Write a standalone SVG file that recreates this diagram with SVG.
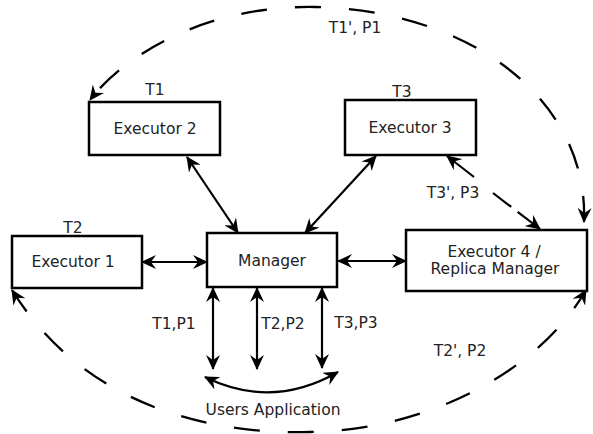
<svg xmlns="http://www.w3.org/2000/svg" width="593" height="434" viewBox="0 0 593 434">
<style>
.box{fill:#fff;stroke:#000;stroke-width:2.5}
.t{font-family:"DejaVu Sans",Verdana,sans-serif;font-size:15.5px;fill:#222;text-anchor:middle}
.c{fill:none;stroke:#000;stroke-width:2.2}
.d{fill:none;stroke:#000;stroke-width:2.3;stroke-dasharray:26 28}
</style>
<defs>
<marker id="ah" viewBox="0 0 15 14" refX="14" refY="7" markerWidth="15" markerHeight="14" markerUnits="userSpaceOnUse" orient="auto-start-reverse">
<path d="M0,0 L15,7 L0,14 L5,7 z" fill="#000"/>
</marker>
</defs>
<rect width="593" height="434" fill="#fff"/>
<g id="connectors">
<path class="d" d="M584,222 C589,100 470,10 315,7 C200,5 120,60 90,100" marker-start="url(#ah)" marker-end="url(#ah)"/>
<path class="d" d="M12,290 C80,400 200,435 310,432 C430,430 540,370 586,290" marker-start="url(#ah)" marker-end="url(#ah)"/>
<line class="c" x1="187" y1="157" x2="238" y2="233" marker-start="url(#ah)" marker-end="url(#ah)"/>
<line class="c" x1="376" y1="156" x2="305" y2="233" marker-start="url(#ah)" marker-end="url(#ah)"/>
<line class="c" x1="142" y1="262" x2="207" y2="262" marker-start="url(#ah)" marker-end="url(#ah)"/>
<line class="c" x1="338" y1="261" x2="406" y2="261" marker-start="url(#ah)" marker-end="url(#ah)"/>
<line class="c" x1="213" y1="288" x2="213" y2="369" marker-start="url(#ah)" marker-end="url(#ah)"/>
<line class="c" x1="257" y1="288" x2="257" y2="369" marker-start="url(#ah)" marker-end="url(#ah)"/>
<line class="c" x1="322" y1="288" x2="322" y2="368" marker-start="url(#ah)" marker-end="url(#ah)"/>
<path class="c" d="M205,377 Q272,410 338,372" marker-start="url(#ah)" marker-end="url(#ah)"/>
<line class="c" x1="447" y1="156" x2="474" y2="177" marker-start="url(#ah)"/>
<path class="c" d="M493,193 L540,229" style="stroke-dasharray:23 8 40" marker-end="url(#ah)"/>
</g>
<g id="labels">
<text class="t" x="355" y="33">T1', P1</text>
<text class="t" x="453" y="198">T3', P3</text>
<text class="t" x="460" y="356">T2', P2</text>
<text class="t" x="174" y="329">T1,P1</text>
<text class="t" x="283" y="329">T2,P2</text>
<text class="t" x="356" y="328">T3,P3</text>
<text class="t" x="273" y="415">Users Application</text>
</g>
<g id="executor2">
<text class="t" x="155" y="95">T1</text>
<rect class="box" x="89" y="102" width="131" height="53"/>
<text class="t" x="155" y="134">Executor 2</text>
</g>
<g id="executor3">
<text class="t" x="402" y="97">T3</text>
<rect class="box" x="345" y="100" width="131" height="55"/>
<text class="t" x="410" y="133">Executor 3</text>
</g>
<g id="executor1">
<text class="t" x="73" y="233">T2</text>
<rect class="box" x="12" y="236" width="130" height="52"/>
<text class="t" x="73" y="267">Executor 1</text>
</g>
<g id="manager">
<rect class="box" x="207" y="233" width="130" height="54"/>
<text class="t" x="272" y="266">Manager</text>
</g>
<g id="executor4">
<rect class="box" x="406" y="230" width="181" height="61"/>
<text class="t" x="494" y="257">Executor 4 /</text>
<text class="t" x="495" y="274">Replica Manager</text>
</g>
</svg>
